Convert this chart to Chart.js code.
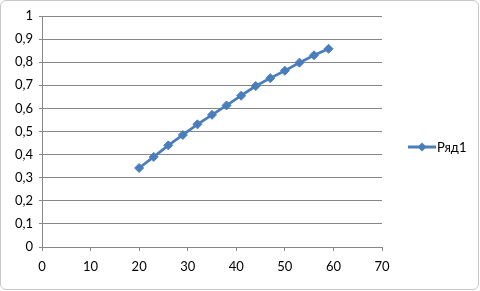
<!DOCTYPE html>
<html>
<head>
<meta charset="utf-8">
<script src="https://cdn.jsdelivr.net/npm/chart.js@4"></script>
<style>
  body { margin: 0; background: #fff; }
  #marco { position: absolute; left: 0; top: 0; width: 477px; height: 288px; border: 1px solid #c8c8c8; border-radius: 6px; overflow: hidden; }
  #grafico { position: absolute; left: -1px; top: -1px; }
</style>
</head>
<body>
<div id="marco"><canvas id="grafico" width="480" height="291"></canvas></div>
<script>
const serieX = [20, 23, 26, 29, 32, 35, 38, 41, 44, 47, 50, 53, 56, 59];
const serieY = [0.342, 0.39, 0.44, 0.485, 0.531, 0.572, 0.613, 0.655, 0.697, 0.731, 0.763, 0.798, 0.83, 0.858];
const nombreSerie = 'Ряд1';

const azul = '#4a7ebb';
const gris = '#868686';
const fuente = { family: 'Lato', size: 13 };

// leyenda dibujada a mano: linea + rombo + texto
const leyenda = {
  id: 'leyenda',
  afterDraw (chart) {
    const ctx = chart.ctx;
    const y = 147;
    ctx.save();
    ctx.strokeStyle = azul;
    ctx.lineWidth = 3;
    ctx.beginPath();
    ctx.moveTo(408, y);
    ctx.lineTo(436, y);
    ctx.stroke();
    ctx.fillStyle = azul;
    ctx.beginPath();
    ctx.moveTo(422 - 4.5, y);
    ctx.lineTo(422, y - 4.5);
    ctx.lineTo(422 + 4.5, y);
    ctx.lineTo(422, y + 4.5);
    ctx.closePath();
    ctx.fill();
    ctx.fillStyle = '#000';
    ctx.font = '13px Lato';
    ctx.textBaseline = 'middle';
    ctx.fillText(chart.data.datasets[0].label, 437, y + 1);
    ctx.restore();
  }
};

const datos = serieX.map((x, i) => ({ x: x, y: serieY[i] }));

const ctx = document.querySelector('#grafico').getContext('2d');
const miGrafico = new Chart(ctx, {
  type: 'scatter',
  data: {
    datasets: [{
      label: nombreSerie,
      data: datos,
      showLine: true,
      borderColor: azul,
      backgroundColor: azul,
      borderWidth: 2.75,
      pointStyle: 'rectRot',
      pointRadius: 4.5,
      pointBorderWidth: 1
    }]
  },
  options: {
    responsive: false,
    animation: false,
    layout: { padding: { top: 16, right: 98, left: 0, bottom: 0 } },
    plugins: { legend: { display: false }, tooltip: { enabled: false } },
    scales: {
      x: {
        type: 'linear',
        min: 0,
        max: 70,
        afterFit: (s) => { s.height = 44; },
        ticks: { stepSize: 10, color: '#000', font: fuente, padding: 8, maxRotation: 0 },
        grid: { drawOnChartArea: false, drawTicks: true, tickLength: 4, color: gris },
        border: { color: gris }
      },
      y: {
        min: 0,
        max: 1,
        afterFit: (s) => { s.width = 42; },
        ticks: {
          stepSize: 0.1,
          color: '#000',
          font: fuente,
          padding: 6,
          callback: (v) => String(Math.round(v * 10) / 10).replace('.', ',')
        },
        grid: { color: gris, tickLength: 3 },
        border: { color: gris }
      }
    }
  },
  plugins: [leyenda]
});
</script>
</body>
</html>
